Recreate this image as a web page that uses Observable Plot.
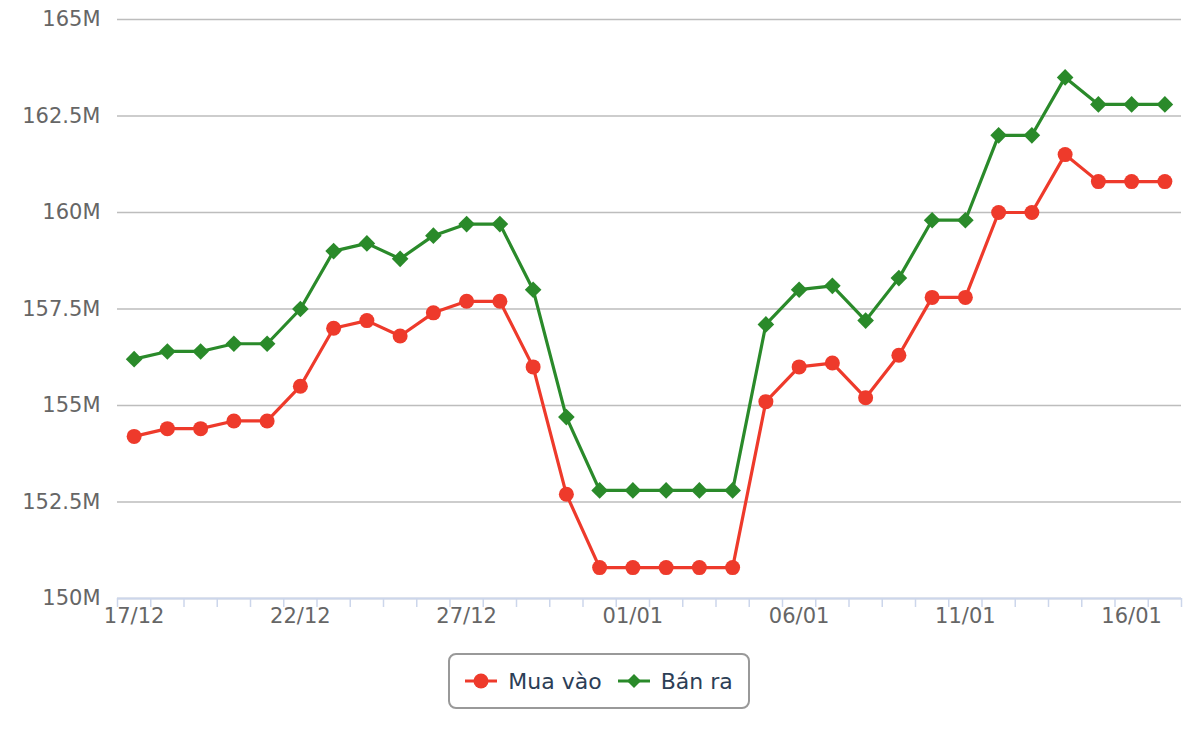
<!DOCTYPE html>
<html>
<head>
<meta charset="utf-8">
<script src="https://cdn.jsdelivr.net/npm/d3@7"></script>
<script src="https://cdn.jsdelivr.net/npm/@observablehq/plot@0.6"></script>
<style>
  body { margin: 0; background: #fff; font-family: "DejaVu Sans", sans-serif; }
  #chart { width: 1200px; }
  #legend-wrap { width: 1200px; display: flex; justify-content: center; margin-top: 13px; }
  #legend { display: inline-flex; align-items: center; border: 2px solid #999; border-radius: 8px; height: 52px; padding: 0 15px; box-sizing: content-box; margin-left: -2px; }
  .item { display: inline-flex; align-items: center; font-size: 22px; color: #2c3e56; margin-right: 16px; }
  .item:last-child { margin-right: 0; }
  .item svg { margin-right: 11px; }
</style>
</head>
<body>
<div id="chart"></div>
<div id="legend-wrap"><div id="legend"></div></div>
<script>
const dates = ["17/12","18/12","19/12","20/12","21/12","22/12","23/12","24/12","25/12","26/12","27/12","28/12","29/12","30/12","31/12",
  "01/01","02/01","03/01","04/01","05/01","06/01","07/01","08/01","09/01","10/01","11/01","12/01","13/01","14/01","15/01","16/01","17/01"];
const buy = [154.2,154.4,154.4,154.6,154.6,155.5,157.0,157.2,156.8,157.4,157.7,157.7,156.0,152.7,150.8,
  150.8,150.8,150.8,150.8,155.1,156.0,156.1,155.2,156.3,157.8,157.8,160.0,160.0,161.5,160.8,160.8,160.8];
const sell = [156.2,156.4,156.4,156.6,156.6,157.5,159.0,159.2,158.8,159.4,159.7,159.7,158.0,154.7,152.8,
  152.8,152.8,152.8,152.8,157.1,158.0,158.1,157.2,158.3,159.8,159.8,162.0,162.0,163.5,162.8,162.8,162.8];
const yTicks = [150,152.5,155,157.5,160,162.5,165];
const labelIdx = [0,5,10,15,20,25,30];
const seriesNames = ["Mua vào","Bán ra"];
const colors = ["#ee3a2b","#2a8a2a"];

const data = dates.map((d,i)=>({i, date:d, buy:buy[i], sell:sell[i]}));
const boundaries = d3.range(dates.length + 1).map(k => k - 0.5);

const chart = Plot.plot({
  width: 1200,
  height: 640,
  marginLeft: 117,
  marginRight: 19,
  marginTop: 19,
  marginBottom: 42,
  style: {fontFamily: "DejaVu Sans, sans-serif", background: "#fff"},
  x: {type: "linear", domain: [-0.5, dates.length - 0.5]},
  y: {domain: [150,165]},
  marks: [
    Plot.gridY(yTicks, {stroke: "#bdbdbd", strokeOpacity: 1, strokeWidth: 1.4}),
    Plot.ruleY([150], {stroke: "#ccd6eb", strokeWidth: 2}),
    Plot.axisY({ticks: yTicks, tickSize: 0, tickPadding: 17, tickFormat: d => d + "M", fontSize: 21, fill: "#666", label: null}),
    Plot.axisX({ticks: boundaries, tickSize: 9, tickFormat: () => "", stroke: "#ccd6eb", strokeWidth: 1.5, label: null}),
    Plot.axisX({ticks: labelIdx, tickSize: 0, tickPadding: 10, tickFormat: i => dates[i], fontSize: 21, fill: "#666", label: null}),
    Plot.line(data, {x: "i", y: "buy", stroke: colors[0], strokeWidth: 3.2}),
    Plot.line(data, {x: "i", y: "sell", stroke: colors[1], strokeWidth: 3.2}),
    Plot.dot(data, {x: "i", y: "buy", r: 7.5, fill: colors[0], stroke: null}),
    Plot.dot(data, {x: "i", y: "sell", r: 7.5, symbol: "diamond2", fill: colors[1], stroke: null})
  ]
});
document.getElementById("chart").appendChild(chart);

const legend = d3.select("#legend");
seriesNames.forEach((name, k) => {
  const item = legend.append("div").attr("class", "item");
  const s = item.append("svg").attr("width", 32).attr("height", 20);
  s.append("line").attr("x1", 0).attr("x2", 32).attr("y1", 10).attr("y2", 10).attr("stroke", colors[k]).attr("stroke-width", 3);
  if (k === 0) s.append("circle").attr("cx", 16).attr("cy", 10).attr("r", 7.5).attr("fill", colors[k]);
  else s.append("path").attr("d", "M16,3L23,10L16,17L9,10Z").attr("fill", colors[k]);
  item.append("span").text(name);
});
</script>
</body>
</html>
